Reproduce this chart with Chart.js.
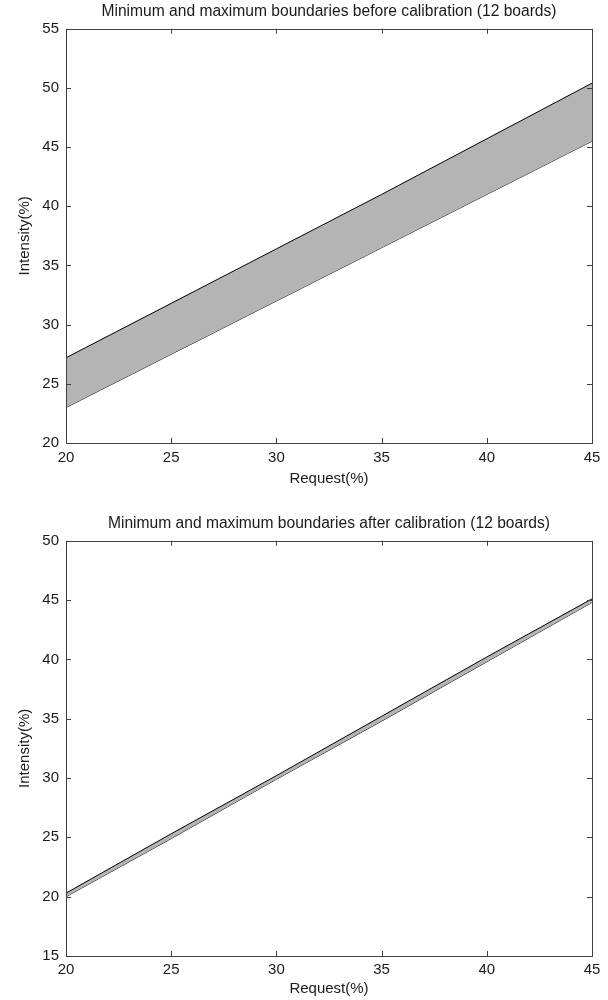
<!DOCTYPE html>
<html>
<head>
<meta charset="utf-8">
<script src="https://cdn.jsdelivr.net/npm/chart.js@4"></script>
<style>
    html, body { margin: 0; padding: 0; background: #ffffff; }
    body { width: 608px; height: 1000px; position: relative; overflow: hidden; }
    .plot { position: absolute; left: 0; width: 608px; }
    #plot-before { top: 0; height: 500px; }
    #plot-after { top: 512px; height: 488px; }
</style>
</head>
<body>
<div class="plot" id="plot-before"><canvas id="chart-before"></canvas></div>
<div class="plot" id="plot-after"><canvas id="chart-after"></canvas></div>
<script>
// Values
const requestX = [20, 25, 30, 35, 40, 45];
const beforeMax = [27.2, 31.8, 36.4, 41.0, 45.7, 50.4];
const beforeMin = [23.0, 27.5, 32.0, 36.5, 41.0, 45.5];
const afterMax = [20.3, 25.3, 30.2, 35.2, 40.2, 45.1];
const afterMin = [20.0, 24.9, 29.9, 34.8, 39.8, 44.8];
const xTicks = [20, 25, 30, 35, 40, 45];
const yTicksBefore = [20, 25, 30, 35, 40, 45, 50, 55];
const yTicksAfter = [15, 20, 25, 30, 35, 40, 45, 50];

const FONT = { family: '"Liberation Sans", Arial, sans-serif', size: 15 };
const TEXT_COLOR = '#1a1a1a';
const AXIS_COLOR = '#404040';
const BAND_COLOR = '#b4b4b4';

const toPoints = (ys) => requestX.map((x, i) => ({ x: x, y: ys[i] }));

// MATLAB-like box with inward ticks on all four sides
const boxPlugin = {
    id: 'matlabBox',
    afterDraw(chart) {
        const { ctx, chartArea: a, scales } = chart;
        const len = 5;
        ctx.save();
        ctx.strokeStyle = AXIS_COLOR;
        ctx.lineWidth = 1;
        ctx.strokeRect(Math.round(a.left) + 0.5, Math.round(a.top) + 0.5,
            Math.round(a.right - a.left), Math.round(a.bottom - a.top));
        ctx.beginPath();
        scales.x.ticks.forEach(t => {
            const px = Math.round(scales.x.getPixelForValue(t.value)) + 0.5;
            ctx.moveTo(px, a.bottom); ctx.lineTo(px, a.bottom - len);
            ctx.moveTo(px, a.top); ctx.lineTo(px, a.top + len);
        });
        scales.y.ticks.forEach(t => {
            const py = Math.round(scales.y.getPixelForValue(t.value)) + 0.5;
            ctx.moveTo(a.left, py); ctx.lineTo(a.left + len, py);
            ctx.moveTo(a.right, py); ctx.lineTo(a.right - len, py);
        });
        ctx.stroke();
        ctx.restore();
    }
};

function makeChart(canvasId, title, upper, lower, yTicks, xAxisHeight, tickPad, titlePadBottom) {
    const ctx = document.getElementById(canvasId).getContext('2d');
    return new Chart(ctx, {
        type: 'line',
        data: {
            datasets: [
                { data: toPoints(upper), borderColor: '#000000', borderWidth: 1, pointRadius: 0,
                  tension: 0, fill: '+1', backgroundColor: BAND_COLOR },
                { data: toPoints(lower), borderColor: '#000000', borderWidth: 1, pointRadius: 0,
                  tension: 0, fill: false }
            ]
        },
        options: {
            responsive: true,
            maintainAspectRatio: false,
            animation: false,
            layout: { padding: { left: 0, right: 16, top: 0, bottom: 0 } },
            scales: {
                x: {
                    type: 'linear',
                    min: xTicks[0],
                    max: xTicks[xTicks.length - 1],
                    afterBuildTicks: (s) => { s.ticks = xTicks.map(v => ({ value: v })); },
                    afterFit: (s) => { s.height = xAxisHeight; },
                    grid: { display: false, drawTicks: false },
                    border: { display: false },
                    ticks: { color: TEXT_COLOR, font: FONT, padding: tickPad, maxRotation: 0 },
                    title: { display: true, text: 'Request(%)', color: TEXT_COLOR, font: FONT,
                             padding: { top: 0, bottom: titlePadBottom } }
                },
                y: {
                    min: yTicks[0],
                    max: yTicks[yTicks.length - 1],
                    afterBuildTicks: (s) => { s.ticks = yTicks.map(v => ({ value: v })); },
                    afterFit: (s) => { s.width = 66; },
                    grid: { display: false, drawTicks: false },
                    border: { display: false },
                    ticks: { color: TEXT_COLOR, font: FONT, padding: 7 },
                    title: { display: true, text: 'Intensity(%)', color: TEXT_COLOR, font: FONT,
                             padding: { top: 16, bottom: 0 } }
                }
            },
            plugins: {
                legend: { display: false },
                tooltip: { enabled: false },
                title: { display: true, text: title, color: TEXT_COLOR, fullSize: false,
                         font: { family: FONT.family, size: 15.6, weight: 'normal' },
                         padding: { top: 2, bottom: 8 } }
            }
        },
        plugins: [boxPlugin]
    });
}

makeChart('chart-before', 'Minimum and maximum boundaries before calibration (12 boards)',
    beforeMax, beforeMin, yTicksBefore, 57, 6, 12);
makeChart('chart-after', 'Minimum and maximum boundaries after calibration (12 boards)',
    afterMax, afterMin, yTicksAfter, 44, 5, 2);
</script>
</body>
</html>
